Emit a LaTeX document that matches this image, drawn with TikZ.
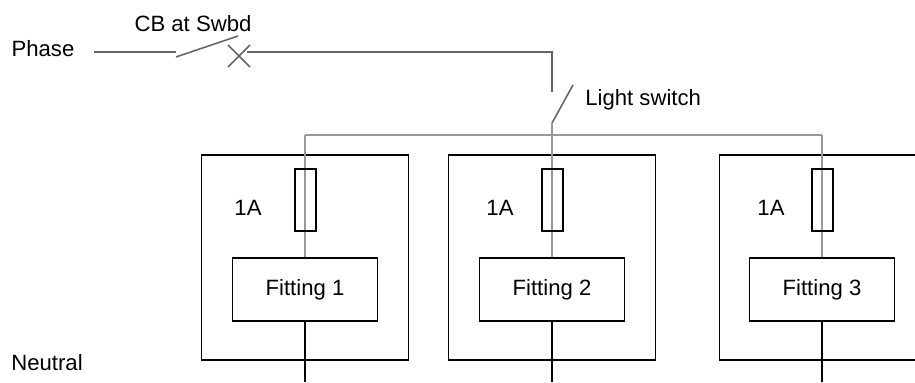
\documentclass[tikz,border=0pt]{standalone}
\usepackage{fontspec}
\setmainfont{Liberation Sans}
\usepackage{tikz}
\usetikzlibrary{arrows,%
                shapes,positioning}

\tikzset{wire/.style={draw=black!60, line width=0.9pt},
         feed/.style={draw=black!40, line width=1pt},
         box/.style={draw, line width=0.9pt, rectangle, inner sep=0pt},
         encl/.style={box, minimum width=4.14cm, minimum height=4.1cm},
         fuse/.style={box, minimum width=0.42cm, minimum height=1.24cm},
         fitting/.style={box, minimum width=2.9cm, minimum height=1.26cm, font=\fontsize{12.6}{14}\selectfont},
         lbl/.style={font=\fontsize{12.6}{14}\selectfont, inner sep=0pt}}

\begin{document}
\begin{tikzpicture}[x=0.02cm,y=-0.02cm]
\useasboundingbox (0,0) rectangle (915,382);
\clip (0,0) rectangle (915,382);
\node[lbl] (phase) at (43,49) {Phase};
\node[lbl] (cbtext) at (193,24) {CB at Swbd};
\node[lbl, anchor=west] (lstext) at (585,100) {Light switch};
\node[lbl] (neutral) at (47,363) {Neutral};
\coordinate (ph) at (94,52);
\coordinate (cba) at (176,52);
\coordinate (cbb) at (176,57);
\coordinate (cbc) at (238,36);
\coordinate (cbx) at (239,56);
\coordinate (cbd) at (247,52);
\coordinate (top) at (552,52);
\coordinate (lsa) at (552,92);
\coordinate (lsb) at (552,123);
\coordinate (lsc) at (573,85);
\coordinate (b1) at (305,135);
\coordinate (b2) at (552,135);
\coordinate (b3) at (822,135);
\node[encl] (E1) at (305,257.5) {};
\node[encl] (E2) at (552,257.5) {};
\node[encl] (E3) at (823,257.5) {};
\node[fitting] (F1) at (305,289.5) {Fitting 1};
\node[fitting] (F2) at (552,289.5) {Fitting 2};
\node[fitting] (F3) at (822,289.5) {Fitting 3};
\coordinate (n1) at (305,382);
\coordinate (n2) at (552,382);
\coordinate (n3) at (822,382);
\draw[wire] (ph) -- (cba);
\draw[wire] (cbb) -- (cbc);
\draw[wire] ([shift={(-11,-11)}]cbx) -- ([shift={(11,11)}]cbx);
\draw[wire] ([shift={(-11,11)}]cbx) -- ([shift={(11,-11)}]cbx);
\draw[wire] (cbd) -- (top) -- (lsa);
\draw[wire] (lsb) -- (lsc);
\draw[feed] (b1) -- (b3);
\draw[feed] (b1) -- (F1.north);
\draw[feed] (lsb) -- (F2.north);
\draw[feed] (b3) -- (F3.north);
\node[fuse] (fu1) at (305.5,200) {};
\node[fuse] (fu2) at (552.5,200) {};
\node[fuse] (fu3) at (822.5,200) {};
\node[lbl] (r1) at (248,208) {1A};
\node[lbl] (r2) at (500,208) {1A};
\node[lbl] (r3) at (771,208) {1A};
\draw[line width=0.9pt] (F1.south) -- (n1);
\draw[line width=0.9pt] (F2.south) -- (n2);
\draw[line width=0.9pt] (F3.south) -- (n3);
\end{tikzpicture}
\end{document}
